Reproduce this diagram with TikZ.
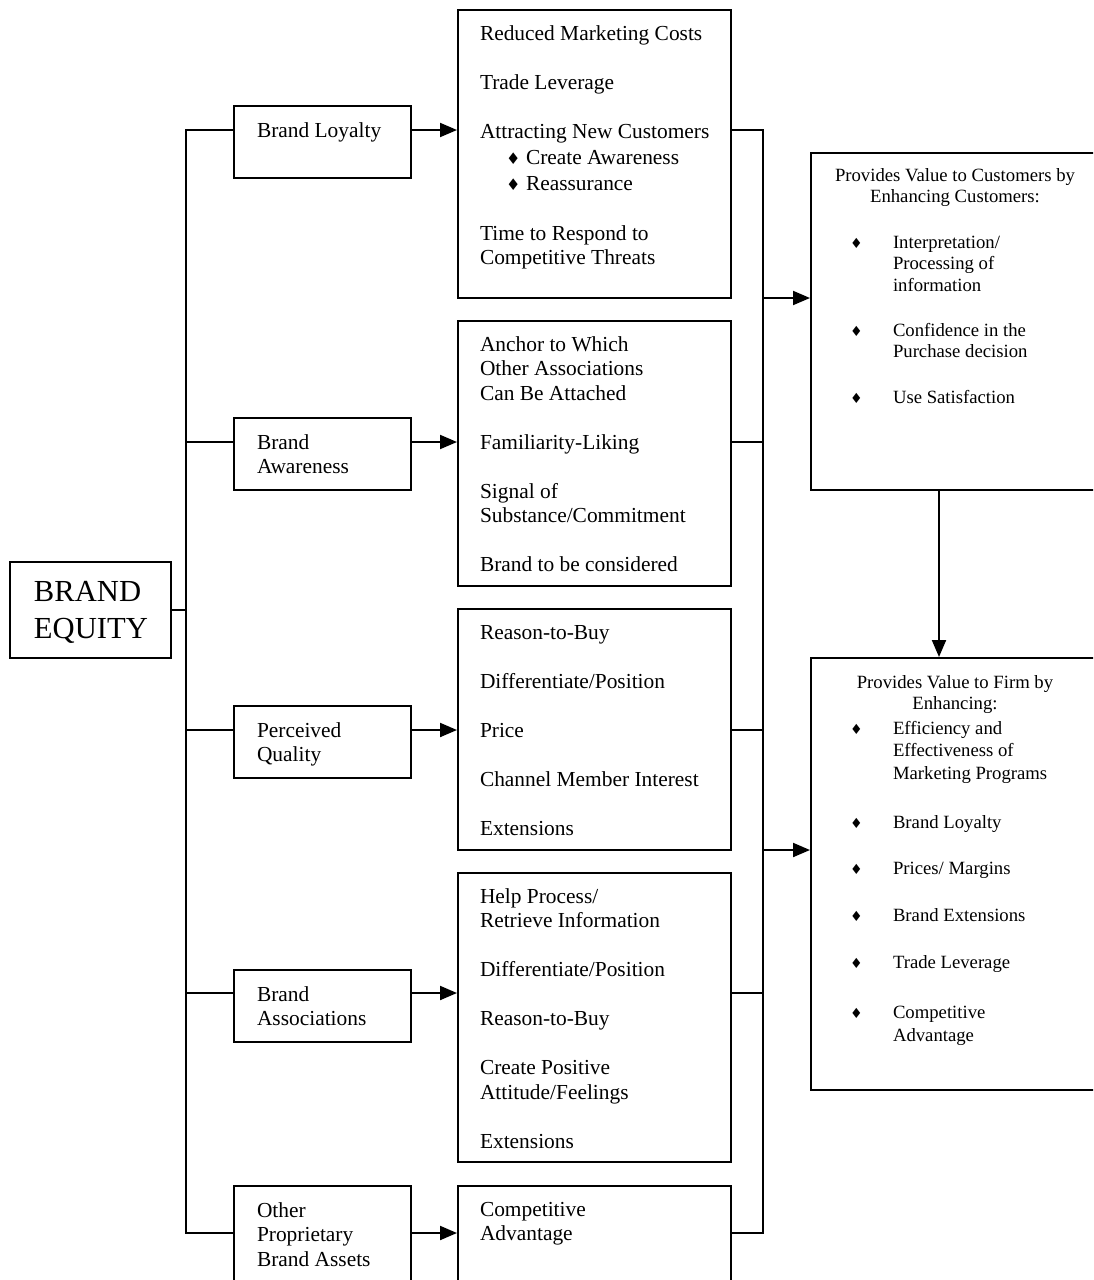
\documentclass[tikz,border=0pt]{standalone}
\usepackage{fontspec}
\setmainfont{Liberation Serif}
\newfontfamily\dingfont{DejaVu Sans}
\usetikzlibrary{arrows.meta,fit}
% black diamond bullet at a given size
\newcommand\dmd[1]{{\dingfont\fontsize{#1}{#1}\selectfont\char"2666}}
% top-aligned block of left-aligned lines
\newcommand\txtlines[1]{\begin{tabular}[t]{@{}l@{}}#1\end{tabular}}
\newcommand\midlines[1]{\begin{tabular}[t]{@{}c@{}}#1\end{tabular}}
\newcommand\bullist[1]{\begin{tabular}[t]{@{}l@{}l@{}}#1\end{tabular}}
\newcommand\bi{\makebox[43pt][l]{\dmd{14pt}}}
\newcommand\subi{\hspace*{26pt}\makebox[20pt][l]{\dmd{16pt}}}
\begin{document}
\begin{tikzpicture}[x=1pt,y=-1pt,line width=2pt,
  frame/.style={draw,line width=2pt,rectangle,inner sep=0pt},
  arr/.style={-{Triangle[length=17pt,width=14pt]}},
  body/.style={inner sep=0pt,anchor=base west,font=\fontsize{21.4pt}{24.5pt}\selectfont},
  side/.style={inner sep=0pt,font=\fontsize{18.7pt}{21.5pt}\selectfont}]
\useasboundingbox (0,0) rectangle (1093,1280);
\clip (0,0) rectangle (1093,1280);

% root
\node[frame,fit={(10,562)(171,658)}] (be) {};
\node[inner sep=0pt,anchor=base west,font=\fontsize{30.6pt}{37.5pt}\selectfont]
  (bet) at (33,601) {\txtlines{BRAND\\EQUITY}};

% first-level assets
\node[frame,fit={(234,106)(411,178)}] (q1) {};
\node[frame,fit={(234,418)(411,490)}] (q2) {};
\node[frame,fit={(234,706)(411,778)}] (q3) {};
\node[frame,fit={(234,970)(411,1042)}] (q4) {};
\node[frame,fit={(234,1186)(411,1310)}] (q5) {};
\node[body] (q1t) at (256,137) {\txtlines{Brand Loyalty}};
\node[body] (q2t) at (256,449) {\txtlines{Brand\\Awareness}};
\node[body] (q3t) at (256,737) {\txtlines{Perceived\\Quality}};
\node[body] (q4t) at (256,1001) {\txtlines{Brand\\Associations}};
\node[body] (q5t) at (256,1217) {\txtlines{Other\\Proprietary\\Brand Assets}};

% benefits of each asset
\node[frame,fit={(458,10)(731,298)}] (m1) {};
\node[frame,fit={(458,321)(731,586)}] (m2) {};
\node[frame,fit={(458,609)(731,850)}] (m3) {};
\node[frame,fit={(458,873)(731,1162)}] (m4) {};
\node[frame,fit={(458,1186)(731,1310)}] (m5) {};
\node[body] (m1t) at (479,40) {\txtlines{Reduced Marketing Costs\\[24.5pt]
  Trade Leverage\\[24.5pt]
  Attracting New Customers\\[1.5pt]
  \subi Create Awareness\\[1.5pt]
  \subi Reassurance\\[25.5pt]
  Time to Respond to\\
  Competitive Threats}};
\node[body] (m2t) at (479,351) {\txtlines{Anchor to Which\\Other Associations\\Can Be Attached\\[24.5pt]
  Familiarity-Liking\\[24.5pt]
  Signal of\\Substance/Commitment\\[24.5pt]
  Brand to be considered}};
\node[body] (m3t) at (479,639) {\txtlines{Reason-to-Buy\\[24.5pt]
  Differentiate/Position\\[24.5pt]
  Price\\[24.5pt]
  Channel Member Interest\\[24.5pt]
  Extensions}};
\node[body] (m4t) at (479,903) {\txtlines{Help Process/\\Retrieve Information\\[24.5pt]
  Differentiate/Position\\[24.5pt]
  Reason-to-Buy\\[24.5pt]
  Create Positive\\Attitude/Feelings\\[24.5pt]
  Extensions}};
\node[body] (m5t) at (479,1216) {\txtlines{Competitive\\Advantage}};

% value boxes
\node[frame,fit={(811,153)(1099,490)}] (r1) {};
\node[frame,fit={(811,658)(1099,1090)}] (r2) {};
\node[side,anchor=base] (r1h) at (955,181) {\midlines{Provides Value to Customers by\\Enhancing Customers:}};
\node[side,anchor=base west] (r1l) at (849,248) {\bullist{\bi&Interpretation/\\&Processing of\\&information\\[23.5pt]
  \bi&Confidence in the\\&Purchase decision\\[24.5pt]
  \bi&Use Satisfaction}};
\node[side,anchor=base] (r2h) at (955,688) {\midlines{Provides Value to Firm by\\Enhancing:}};
\node[side,anchor=base west] (r2l) at (849,734) {\bullist{\bi&Efficiency and\\[0.5pt]&Effectiveness of\\[1.5pt]&Marketing Programs\\[27.5pt]
  \bi&Brand Loyalty\\[24.5pt]
  \bi&Prices/ Margins\\[25.5pt]
  \bi&Brand Extensions\\[25.5pt]
  \bi&Trade Leverage\\[28.5pt]
  \bi&Competitive\\[1.5pt]&Advantage}};

% junction points
\coordinate (t1) at (186,130);
\coordinate (t2) at (186,442);
\coordinate (t3) at (186,730);
\coordinate (t4) at (186,993);
\coordinate (t5) at (186,1233);
\coordinate (c1) at (763,130);
\coordinate (c2) at (763,442);
\coordinate (c3) at (763,730);
\coordinate (c4) at (763,993);
\coordinate (c5) at (763,1233);
\coordinate (k1) at (763,298);
\coordinate (k2) at (763,850);
\coordinate (v) at (939,0);

% connectors
\draw (q1.west |- t1) -- (t1) -- (t5) -- (q5.west |- t5);
\draw (be.east) -- (be.east -| t1);
\foreach \i in {2,3,4} \draw (t\i) -- (q\i.west |- t\i);
\foreach \i in {1,...,5} \draw[arr] (q\i.east |- t\i) -- (m\i.west |- t\i);
\draw (m1.east |- c1) -- (c1) -- (c5) -- (m5.east |- c5);
\foreach \i in {2,3,4} \draw (m\i.east |- c\i) -- (c\i);
\draw[arr] (k1) -- (r1.west |- k1);
\draw[arr] (k2) -- (r2.west |- k2);
\draw[arr] (r1.south -| v) -- (r2.north -| v);
\end{tikzpicture}
\end{document}
